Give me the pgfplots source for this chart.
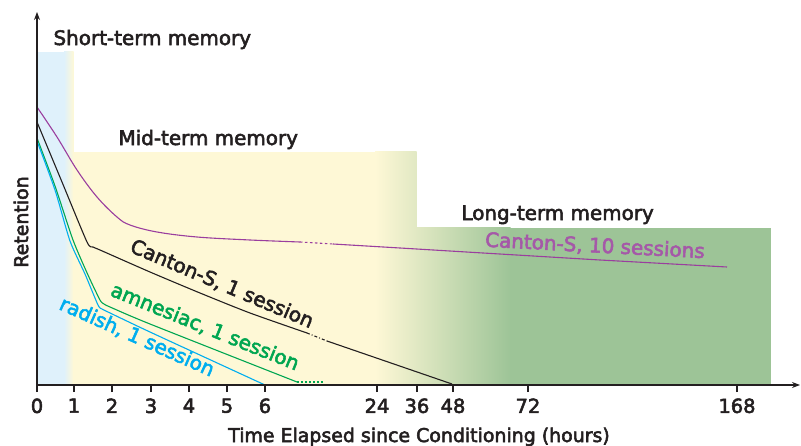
\documentclass[border=0pt]{standalone}
\usepackage{fontspec}
\setmainfont{DejaVu Sans}
\usepackage{pgfplots}
\pgfplotsset{compat=1.18}
\usetikzlibrary{arrows.meta}
\definecolor{ink}{HTML}{231F20}
\definecolor{bgblue}{HTML}{DFF1FB}
\definecolor{bgyellow}{HTML}{FEF8D6}
\definecolor{bggreen}{HTML}{9DC497}
\definecolor{lpurple}{HTML}{9A3E9E}
\definecolor{tpurple}{HTML}{A558A8}
\definecolor{lgreen}{HTML}{00A651}
\definecolor{lblue}{HTML}{00AEEF}
\colorlet{bgmid}{bggreen!30!bgyellow}
\newcommand{\bolden}{\special{pdf:literal direct 2 Tr 0.55 w}}
\newcommand{\lab}{\fontsize{20}{22}\selectfont\bolden}
\begin{document}
\begin{tikzpicture}
\useasboundingbox (0,0) rectangle (801bp,446bp);
\begin{axis}[
  at={(37bp,61bp)}, anchor=south west,
  x=1bp, y=1bp,
  xmin=37, xmax=800, ymin=61, ymax=434,
  axis lines=left,
  axis line style={line width=1.2bp, draw=ink, -{Stealth[length=8bp,width=6bp]}},
  axis on top,
  clip=false,
  xtick={37,74,112,151,189,227,265,377,417,453,528,737},
  xticklabels={0,1,2,3,4,5,6,24,36,48,72,168},
  ytick=\empty,
  tick align=outside,
  major tick length=7bp,
  xtick style={line width=1.2bp, draw=ink},
  xticklabel style={font=\fontsize{19.5}{20}\selectfont\bolden, text=ink, yshift=-3bp},
  /pgf/number format/assume math mode=true,
  xlabel={Time Elapsed since Conditioning (hours)},
  xlabel style={at={(axis cs:419,4)}, anchor=base, font=\fontsize{19}{20}\selectfont\bolden, text=ink},
  ylabel={Retention},
  ylabel style={at={(axis cs:21,224)}, anchor=center, font=\fontsize{19}{20}\selectfont\bolden, text=ink},
]
% background regions
\addplot[draw=none, fill=bgblue] coordinates {(37,61) (37,394) (64.5,394) (64.5,61)} --cycle;
\addplot[draw=none, left color=bgblue, right color=bgyellow] coordinates {(64,61) (64,394) (73.5,394) (73.5,61)} --cycle;
\addplot[draw=none, fill=bgyellow] coordinates {(73,61) (73,294) (375.5,294) (375.5,61)} --cycle;
\addplot[draw=none, left color=bgyellow, right color=bgmid] coordinates {(375,61) (375,294) (416.5,294) (416.5,61)} --cycle;
\addplot[draw=none, left color=bgmid, right color=bggreen] coordinates {(416,61) (416,218) (510.5,218) (510.5,61)} --cycle;
\addplot[draw=none, fill=bggreen] coordinates {(510,61) (510,218) (771,218) (771,61)} --cycle;

% Canton-S, 10 sessions
\addplot[lpurple, line width=1.1bp, smooth, tension=0.6] coordinates {(37,339) (57,309) (77,276) (97,249) (117,229) (130,221) (157,214) (197,209) (250,206) (300,204)};
\addplot[lpurple, line width=1.1bp, dash pattern=on 2.5bp off 2.5bp] coordinates {(300,204) (333,202)};
\addplot[lpurple, line width=1.1bp] coordinates {(333,202) (400,198) (483,193) (600,186) (727,179)};

% Canton-S, 1 session
\addplot[ink, line width=1.1bp, smooth, tension=0.4] coordinates {(37,324) (62,264) (87,204) (93,199) (100,196) (150,174) (200,153) (250,133) (307,113)};
\addplot[ink, line width=1.1bp, dash pattern=on 3bp off 2bp on 1bp off 2bp] coordinates {(307,113) (327,105)};
\addplot[ink, line width=1.1bp] coordinates {(327,105) (452,62)};

% amnesiac, 1 session
\addplot[lgreen, line width=1.1bp, smooth, tension=0.4] coordinates {(37,308) (55,260) (73,206) (88,171) (100,146) (104,142) (110,139) (150,122) (297,64)};
\addplot[lgreen, line width=1.1bp, dash pattern=on 2bp off 2bp] coordinates {(297,64) (325,64)};

% radish, 1 session
\addplot[lblue, line width=1.1bp, smooth, tension=0.4] coordinates {(37,305) (55,256) (70,205) (85,172) (98,141) (102,137) (108,134) (150,114) (265,61)};

% labels
\node[anchor=base west, text=ink, font=\lab] at (axis cs:50,401) {Short-term memory};
\node[anchor=base west, text=ink, font=\lab] at (axis cs:115,301) {Mid-term memory};
\node[anchor=base west, text=ink, font=\lab] at (axis cs:458,226) {Long-term memory};
\node[text=tpurple, font=\lab, rotate=-3] at (axis cs:595,200) {Canton-S, 10 sessions};
\node[text=ink, font=\lab, rotate=-23] at (axis cs:222,162) {Canton-S, 1 session};
\node[text=lgreen, font=\lab, rotate=-22] at (axis cs:205,119) {amnesiac, 1 session};
\node[text=lblue, font=\lab, rotate=-24] at (axis cs:137,109) {radish, 1 session};
\end{axis}
\end{tikzpicture}
\end{document}
